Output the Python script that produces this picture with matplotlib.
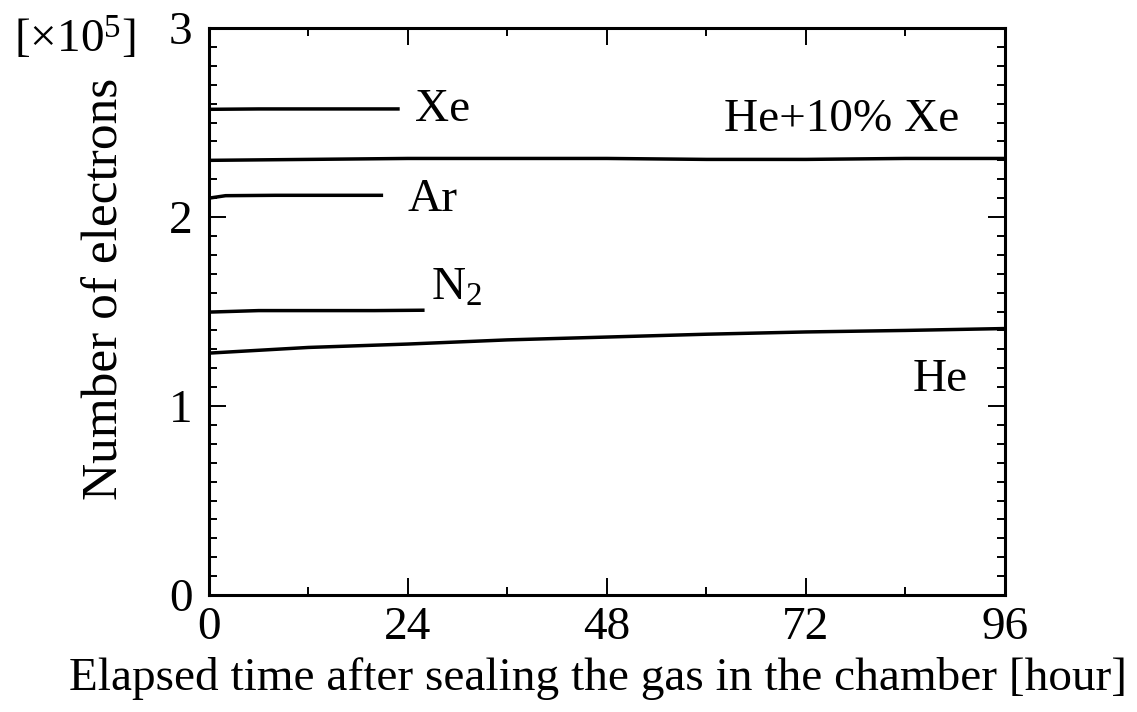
import matplotlib
matplotlib.use("Agg")
import matplotlib.pyplot as plt
from matplotlib.ticker import MultipleLocator

plt.rcParams['font.family'] = 'Liberation Serif'
plt.rcParams['mathtext.fontset'] = 'custom'
plt.rcParams['mathtext.rm'] = 'Liberation Serif'
plt.rcParams['mathtext.it'] = 'Liberation Serif:italic'

# electron counts in units of 1e5, vs. hours after sealing
t_he = [0, 6, 12, 24, 36, 48, 60, 72, 84, 96]
n_he = [1.28, 1.295, 1.31, 1.328, 1.35, 1.365, 1.38, 1.392, 1.40, 1.41]

t_hexe = [0, 12, 24, 36, 48, 60, 72, 84, 96]
n_hexe = [2.30, 2.305, 2.31, 2.31, 2.31, 2.305, 2.305, 2.31, 2.31]

t_xe = [0, 6, 12, 18, 23]
n_xe = [2.57, 2.572, 2.572, 2.572, 2.572]

t_ar = [0, 2, 8, 14, 21]
n_ar = [2.10, 2.113, 2.115, 2.115, 2.115]

t_n2 = [0, 6, 12, 20, 26]
n_n2 = [1.497, 1.505, 1.505, 1.505, 1.507]

fig = plt.figure(figsize=(11.37, 7.12), dpi=100)
ax = fig.add_axes([0.1838, 0.1643, 0.7001, 0.7963])

lw = 2.5
for t, n in [(t_he, n_he), (t_hexe, n_hexe), (t_xe, n_xe), (t_ar, n_ar), (t_n2, n_n2)]:
    ax.plot(t, n, color='black', lw=lw, solid_capstyle='butt')

fs = 34
ax.text(24.8, 2.57, 'Xe', fontsize=fs, va='center', ha='left')
ax.text(90.5, 2.515, 'He+10% Xe', fontsize=fs, va='center', ha='right')
ax.text(24.0, 2.09, 'Ar', fontsize=fs, va='center', ha='left')
ax.text(26.8, 1.62, r'N$_{\mathrm{2}}$', fontsize=fs, va='center', ha='left')
ax.text(91.5, 1.14, 'He', fontsize=fs, va='center', ha='right')

ax.set_xlim(0, 96)
ax.set_ylim(0, 3)
ax.xaxis.set_major_locator(MultipleLocator(24))
ax.xaxis.set_minor_locator(MultipleLocator(12))
ax.yaxis.set_major_locator(MultipleLocator(1))
ax.yaxis.set_minor_locator(MultipleLocator(0.1))
ax.tick_params(which='both', direction='in', top=True, right=True,
               labelsize=fs, width=1.4, color='black')
ax.tick_params(which='major', length=12)
ax.tick_params(which='minor', length=5.5)
ax.tick_params(axis='y', pad=12)
ax.tick_params(axis='x', pad=8)
for s in ax.spines.values():
    s.set_linewidth(2.2)

ax.set_xlabel('Elapsed time after sealing the gas in the chamber [hour]', fontsize=fs)
ax.xaxis.set_label_coords(0.489, -0.11)
ax.set_ylabel('Number of electrons', fontsize=37, va='center')
ax.yaxis.set_label_coords(-0.13, 0.54)
fig.text(0.012, 0.945, r'[$\times$10$^{\mathrm{5}}$]', fontsize=fs, va='center', ha='left')

fig.savefig('out.png', dpi=100)
